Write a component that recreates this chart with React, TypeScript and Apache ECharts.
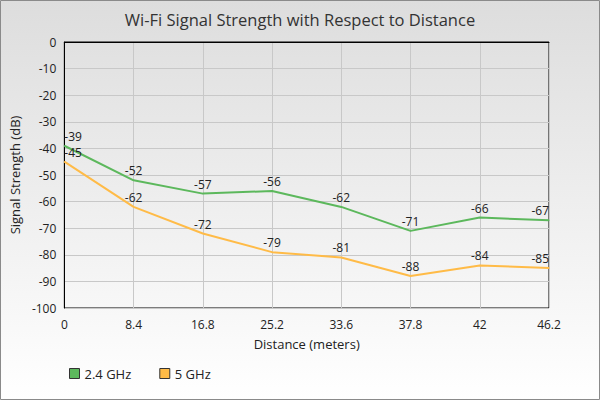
import React, { useEffect, useRef } from "react";
import * as echarts from "echarts";

const categories = ["0", "8.4", "16.8", "25.2", "33.6", "37.8", "42", "46.2"];
const ghz24 = [-39, -52, -57, -56, -62, -71, -66, -67];
const ghz5 = [-45, -62, -72, -79, -81, -88, -84, -85];
const seriesNames = ["2.4 GHz", "5 GHz"];

const FONT = "'Open Sans', sans-serif";

function withEdgeAlign(values: number[]) {
  return values.map((v, i) => {
    if (i === 0) return { value: v, label: { align: "left" as const } };
    if (i === values.length - 1) return { value: v, label: { align: "right" as const } };
    return v;
  });
}

export default function App() {
  const ref = useRef<HTMLDivElement>(null);
  useEffect(() => {
    document.body.style.margin = "0";
    const chart = echarts.init(ref.current!, null, { renderer: "svg" });
    chart.setOption({
      animation: false,
      textStyle: { fontFamily: FONT },
      graphic: [
        {
          type: "rect",
          z: -10,
          silent: true,
          shape: { x: 0.5, y: 0.5, width: 599, height: 399 },
          style: {
            fill: new echarts.graphic.LinearGradient(0, 0, 0, 1, [
              { offset: 0, color: "#dddddd" },
              { offset: 1, color: "#ffffff" },
            ]),
            stroke: "#8a8a8a",
            lineWidth: 1,
          },
        },
      ],
      title: {
        text: "Wi-Fi Signal Strength with Respect to Distance",
        left: "center",
        top: 6,
        textStyle: { fontFamily: FONT, fontSize: 16.5, fontWeight: "normal", color: "#333" },
      },
      legend: {
        data: seriesNames,
        left: 64,
        top: 362,
        icon: "rect",
        itemWidth: 10,
        itemHeight: 10,
        itemGap: 28,
        itemStyle: { borderColor: "#333", borderWidth: 1 },
        textStyle: { fontFamily: FONT, fontSize: 13, color: "#222" },
      },
      grid: {
        left: 60,
        right: 51,
        top: 42,
        bottom: 92,
        show: true,
        borderColor: "#000",
        borderWidth: 1,
        backgroundColor: "transparent",
      },
      xAxis: {
        type: "category",
        data: categories,
        boundaryGap: false,
        name: "Distance (meters)",
        nameLocation: "middle",
        nameGap: 29,
        nameTextStyle: { fontFamily: FONT, fontSize: 13, color: "#222" },
        axisLine: { lineStyle: { color: "#000" } },
        axisTick: { show: false },
        axisLabel: { fontFamily: FONT, fontSize: 12, color: "#222", margin: 10 },
        splitLine: { show: true, lineStyle: { color: "#c8c8c8" } },
      },
      yAxis: {
        type: "value",
        min: -100,
        max: 0,
        interval: 10,
        name: "Signal Strength (dB)",
        nameLocation: "middle",
        nameGap: 42,
        nameTextStyle: { fontFamily: FONT, fontSize: 13, color: "#222" },
        axisLine: { show: true, lineStyle: { color: "#000" } },
        axisTick: { show: false },
        axisLabel: { fontFamily: FONT, fontSize: 12, color: "#222", margin: 8 },
        splitLine: { show: true, lineStyle: { color: "#c8c8c8" } },
      },
      series: [
        {
          name: seriesNames[0],
          type: "line",
          data: withEdgeAlign(ghz24),
          symbol: "circle",
          symbolSize: 1,
          showSymbol: true,
          color: "#5cb85c",
          lineStyle: { width: 2, color: "#5cb85c" },
          label: { show: true, position: "top", distance: 3, fontFamily: FONT, fontSize: 12, color: "#222" },
        },
        {
          name: seriesNames[1],
          type: "line",
          data: withEdgeAlign(ghz5),
          symbol: "circle",
          symbolSize: 1,
          showSymbol: true,
          color: "#ffbb47",
          lineStyle: { width: 2, color: "#ffbb47" },
          label: { show: true, position: "top", distance: 3, fontFamily: FONT, fontSize: 12, color: "#222" },
        },
      ],
    });
    return () => chart.dispose();
  }, []);
  return <div ref={ref} style={{ width: 600, height: 400 }} />;
}
